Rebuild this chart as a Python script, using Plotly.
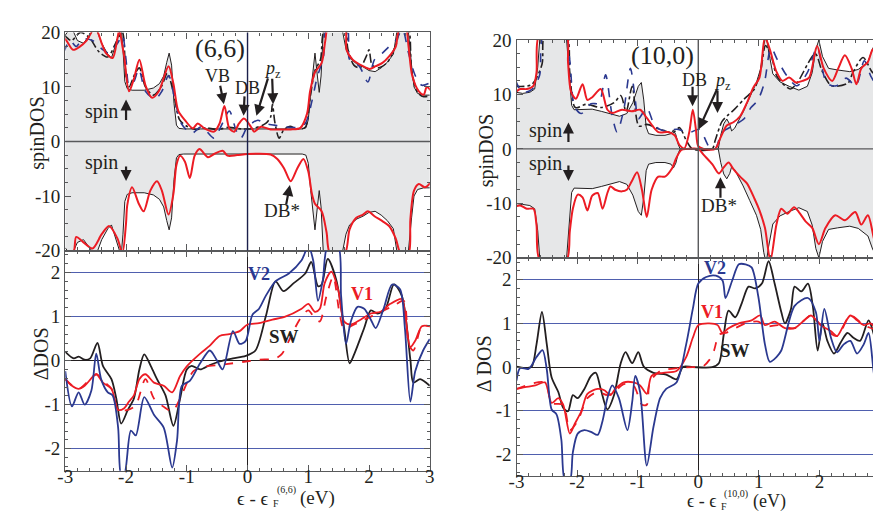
import plotly.graph_objects as go

# ---------------- data ----------------
# (6,6) tube, upper panel: pristine DOS (mirrored for spin down) and defect curves
P66 = [(-3.0, 19.5), (-2.9, 21), (-2.8, 18.5), (-2.7, 18), (-2.6, 19.5), (-2.5, 21), (-2.4, 18), (-2.3, 16),
       (-2.24, 15.3), (-2.16, 18), (-2.08, 21), (-2.05, 17), (-2.02, 11), (-1.98, 9.7), (-1.9, 9.4), (-1.7, 9.4),
       (-1.55, 9.8), (-1.45, 10.6), (-1.38, 12), (-1.33, 14.5), (-1.29, 16.2), (-1.25, 14), (-1.21, 7), (-1.17, 3),
       (-1.13, 2.4), (-1.05, 2.3), (0.0, 2.3), (0.9, 2.3), (0.96, 2.5), (1.0, 4), (1.04, 9), (1.08, 14), (1.11, 16.2),
       (1.15, 12), (1.18, 9), (1.21, 12), (1.25, 21), (1.55, 21), (1.62, 17), (1.68, 15.3), (1.8, 14.2), (1.9, 13.7),
       (2.0, 13), (2.1, 12.8), (2.2, 13.5), (2.3, 14.5), (2.4, 16), (2.47, 21), (2.64, 21), (2.7, 14), (2.74, 10),
       (2.8, 8.8), (2.9, 8.5), (3.0, 8.5)]
RED66_UP = [(-3.03, 19.1), (-2.98, 18.5), (-2.87, 16.8), (-2.76, 17.4), (-2.65, 18.5), (-2.55, 20.3), (-2.49, 20.5),
            (-2.4, 18), (-2.33, 16.2), (-2.22, 15.3), (-2.14, 19), (-2.11, 20.5), (-2.06, 17.5), (-2.03, 15.6),
            (-1.95, 9.2), (-1.87, 11.5), (-1.78, 15.0), (-1.68, 10.3), (-1.57, 8.0), (-1.46, 9.2), (-1.30, 13.8),
            (-1.22, 10.6), (-1.14, 5.6), (-1.03, 3.9), (-0.90, 2.4), (-0.82, 3.3), (-0.71, 2.4), (-0.55, 1.8),
            (-0.46, 3.3), (-0.38, 6.5), (-0.30, 2.4), (-0.22, 1.8), (-0.14, 3.3), (-0.06, 4.2), (0.0, 3.6),
            (0.06, 2.6), (0.11, 1.8), (0.22, 2.7), (0.38, 2.2), (0.55, 2.2), (0.71, 2.2), (0.87, 2.5), (0.98, 5.1),
            (1.03, 9.2), (1.11, 12.7), (1.22, 14.4), (1.28, 18.5), (1.33, 21), (1.6, 21), (1.63, 16.8), (1.73, 15.0),
            (1.9, 13.8), (2.01, 13.3), (2.11, 13.8), (2.22, 14.4), (2.33, 15.6), (2.44, 17.4), (2.49, 20.3),
            (2.6, 21), (2.65, 17.4), (2.71, 12.1), (2.82, 9.2), (2.9, 8.6), (2.95, 10), (3.03, 9.2)]
BLUE66_UP = [(-3.03, 16.2), (-2.92, 18.5), (-2.82, 17.4), (-2.71, 18.8), (-2.55, 18.5), (-2.4, 17), (-2.28, 16.2),
             (-2.14, 18), (-2.06, 19.5), (-2.0, 15), (-1.95, 10.3), (-1.87, 11), (-1.79, 13.3), (-1.68, 9.2),
             (-1.52, 7.8), (-1.41, 9.2), (-1.30, 12.1), (-1.19, 7.4), (-1.09, 3.3), (-0.92, 1.5), (-0.76, 2.7),
             (-0.55, 0.6), (-0.44, 2.7), (-0.30, 5.6), (-0.19, 2.1), (-0.11, 0.6), (0.0, 2.7), (0.17, 3.9),
             (0.28, 3.3), (0.44, 3.0), (0.6, 2.7), (0.82, 2.6), (0.95, 3.3), (1.06, 7.4), (1.14, 11.5), (1.25, 15.6),
             (1.30, 20.5), (1.63, 21), (1.68, 15), (1.84, 13.8), (1.98, 10.9), (2.09, 15), (2.22, 16.2), (2.33, 17.4),
             (2.44, 18.5), (2.55, 20.5), (2.65, 16.2), (2.76, 12.1), (2.87, 10.3), (3.03, 10.9)]
BLACK66_UP = [(-3.03, 19.7), (-2.9, 18.5), (-2.75, 20), (-2.6, 19), (-2.45, 16.5), (-2.3, 15.5), (-2.15, 18.5),
              (-2.06, 20), (-2.0, 12), (-1.95, 10), (-1.85, 12.5), (-1.78, 13.5), (-1.68, 10), (-1.55, 8.5),
              (-1.42, 10), (-1.32, 12.5), (-1.22, 9), (-1.12, 4), (-1.0, 2.8), (-0.85, 2.2), (-0.7, 2.5), (-0.5, 2.2),
              (-0.3, 2.6), (-0.1, 2.3), (0.1, 2.4), (0.3, 3.3), (0.38, 4.5), (0.41, 6.8), (0.45, 3.5), (0.52, 0.6),
              (0.6, 2.2), (0.7, 2.8), (0.8, 2.3), (0.95, 2.6), (1.03, 8), (1.11, 13), (1.2, 15), (1.28, 21), (1.6, 21),
              (1.65, 17), (1.75, 14), (1.85, 13.5), (1.95, 15.5), (2.0, 16.8), (2.05, 14), (2.15, 13.5), (2.3, 14.5),
              (2.45, 18), (2.52, 21), (2.64, 21), (2.7, 13), (2.8, 9), (2.9, 8.2), (3.03, 8.5)]
RED66_DN = [(-3.03, -20.5), (-2.87, -20.5), (-2.82, -17.5), (-2.71, -18.4), (-2.55, -19.6), (-2.4, -17),
            (-2.28, -15.5), (-2.14, -17.8), (-2.06, -20.5), (-2.0, -15), (-1.98, -11.7), (-1.90, -8.4),
            (-1.79, -11.4), (-1.71, -12.8), (-1.60, -9.0), (-1.49, -7.3), (-1.41, -9.0), (-1.30, -13.4),
            (-1.22, -9.6), (-1.17, -4.3), (-1.11, -2.6), (-1.03, -3.7), (-0.95, -6.7), (-0.87, -2.6), (-0.79, -1.4),
            (-0.65, -2.9), (-0.55, -2.3), (-0.41, -1.7), (-0.33, -2.6), (-0.17, -2.5), (0.0, -2.3), (0.38, -2.4),
            (0.49, -3.2), (0.6, -4.9), (0.71, -7.3), (0.82, -4.9), (0.92, -3.2), (1.0, -5.5), (1.06, -9.6),
            (1.11, -11.4), (1.22, -12.8), (1.30, -16.6), (1.36, -20.5), (1.60, -20.5), (1.68, -16.1), (1.79, -14.0),
            (1.90, -13.4), (1.98, -12.8), (2.09, -13.7), (2.22, -14.6), (2.33, -15.5), (2.44, -17.8), (2.52, -20.5),
            (2.65, -20.5), (2.68, -14.3), (2.74, -9.0), (2.82, -7.8), (2.92, -8.4), (3.03, -7.3)]

# (6,6) tube, lower panel: Delta DOS
SW66 = [(-3.0, 0.2), (-2.86, 0.05), (-2.78, 0.09), (-2.68, 0.02), (-2.59, 0.05), (-2.47, 0.40), (-2.38, -0.12),
        (-2.24, -0.42), (-2.16, -0.86), (-2.08, -1.43), (-1.97, -1.12), (-1.87, -0.86), (-1.78, -0.2), (-1.70, 0.14),
        (-1.59, -0.13), (-1.49, -0.42), (-1.35, -0.79), (-1.22, -1.48), (-1.11, -0.86), (-1.0, -0.2), (-0.92, -0.12),
        (-0.78, -0.2), (-0.62, -0.1), (-0.46, -0.02), (-0.24, 0.05), (-0.03, 0.11), (0.13, 0.23), (0.30, 1.0),
        (0.46, 1.8), (0.59, 1.58), (0.76, 1.76), (0.95, 1.98), (1.05, 2.24), (1.16, 1.69), (1.22, 1.73),
        (1.32, 2.31), (1.46, 1.84), (1.59, 0.74), (1.68, -0.06), (1.76, 0.16), (1.92, 0.74), (2.03, 1.14),
        (2.14, 1.07), (2.27, 1.18), (2.41, 1.73), (2.54, 1.47), (2.68, 0.02), (2.73, -0.50), (2.84, -0.42),
        (3.0, -0.57)]
V2_66 = [(-3.0, -0.24), (-2.89, -1.04), (-2.78, -0.72), (-2.68, -1.0), (-2.57, -0.68), (-2.49, 0.16), (-2.41, -0.42),
         (-2.30, -0.72), (-2.22, -0.79), (-2.13, -1.52), (-2.08, -2.6), (-2.03, -2.6), (-1.92, -1.59), (-1.84, -1.70),
         (-1.70, -0.83), (-1.54, -1.23), (-1.38, -1.52), (-1.24, -2.43), (-1.16, -1.81), (-1.08, -0.57),
         (-0.95, -0.46), (-0.78, -0.06), (-0.62, 0.23), (-0.51, 0.02), (-0.41, -0.2), (-0.24, 0.67), (-0.13, 0.38),
         (-0.03, 0.45), (0.08, 1.04), (0.19, 1.18), (0.30, 1.47), (0.46, 1.8), (0.68, 1.98), (0.89, 2.28),
         (1.0, 2.6), (1.08, 2.28), (1.16, 1.36), (1.24, 1.84), (1.32, 2.6), (1.49, 2.6), (1.54, 1.47), (1.62, 0.38),
         (1.70, 0.89), (1.81, 1.22), (1.92, 1.18), (2.03, 0.93), (2.11, 0.74), (2.24, 1.18), (2.38, 1.73),
         (2.51, 1.62), (2.59, 0.74), (2.68, -0.93), (2.76, -0.24), (2.89, 0.23), (3.0, 0.49)]
V1_66 = [(-3.0, -0.42), (-2.89, -0.57), (-2.78, -0.64), (-2.68, -0.57), (-2.49, -0.31), (-2.38, -0.50),
         (-2.24, -0.64), (-2.13, -1.12), (-2.03, -1.08), (-1.95, -0.93), (-1.87, -0.79), (-1.78, -0.42),
         (-1.68, -0.31), (-1.54, -0.50), (-1.38, -0.57), (-1.24, -0.72), (-1.11, -0.35), (-1.0, -0.13),
         (-0.78, 0.16), (-0.62, 0.34), (-0.46, 0.56), (-0.30, 0.60), (-0.13, 0.67), (0.0, 0.82), (0.19, 0.85),
         (0.41, 0.93), (0.62, 1.0), (0.89, 1.18), (1.0, 1.29), (1.11, 1.11), (1.19, 1.18), (1.27, 1.76),
         (1.38, 2.02), (1.49, 1.62), (1.59, 0.89), (1.70, 0.82), (1.86, 0.93), (2.03, 1.07), (2.19, 1.11),
         (2.35, 1.29), (2.54, 1.40), (2.59, 1.11), (2.68, 0.31), (2.76, 0.45), (2.87, 0.78), (3.0, 0.78)]
V1D_66 = [(-3.0, -0.42), (-2.78, -0.64), (-2.49, -0.31), (-2.38, -0.46), (-2.24, -0.64), (-2.13, -1.12),
          (-1.97, -1.12), (-1.84, -1.01), (-1.68, -0.42), (-1.54, -0.86), (-1.38, -1.05), (-1.24, -1.15),
          (-1.11, -0.86), (-0.89, -0.24), (-0.68, -0.13), (-0.46, -0.10), (-0.24, -0.06), (-0.03, -0.02),
          (0.19, 0.02), (0.46, 0.05), (0.57, 0.16), (0.68, 0.45), (0.78, 0.74), (0.89, 1.0), (1.0, 1.14),
          (1.11, 0.96), (1.19, 0.89), (1.30, 1.47), (1.41, 1.91), (1.51, 1.11), (1.59, 0.71), (1.70, 0.78),
          (1.86, 0.89), (2.03, 1.0), (2.24, 1.14), (2.41, 1.25), (2.57, 1.36), (2.65, 0.38), (2.73, 0.23),
          (2.87, 0.78), (3.0, 0.78)]

# (10,0) tube, upper panel
P100 = [(-3.05, 10.5), (-2.9, 10.2), (-2.78, 10.4), (-2.7, 11), (-2.65, 15), (-2.61, 21), (-2.18, 21), (-2.13, 14),
        (-2.09, 8), (-2.05, 7.2), (-1.9, 7.3), (-1.75, 7.3), (-1.6, 6.9), (-1.45, 6.4), (-1.3, 6.0), (-1.18, 6.5),
        (-1.08, 8.5), (-0.99, 11.5), (-0.94, 12.2), (-0.9, 9), (-0.86, 4), (-0.82, 2.8), (-0.7, 2.5), (-0.55, 2.5),
        (-0.45, 2.8), (-0.41, 3.5), (-0.37, 2.6), (-0.33, 0.8), (-0.3, 0.0), (0.33, 0.0), (0.37, 2.5), (0.42, 4.6),
        (0.47, 5.5), (0.52, 4.5), (0.55, 3.3), (0.6, 3.8), (0.65, 4.8), (0.74, 6.8), (0.85, 9.5), (0.96, 12.2),
        (1.03, 14.8), (1.08, 19), (1.12, 21), (1.16, 18), (1.23, 13.8), (1.35, 12.3), (1.5, 11.5), (1.66, 10.8),
        (1.8, 11.5), (1.88, 14), (1.94, 18.3), (1.99, 20), (2.05, 17), (2.15, 14.8), (2.3, 14.5), (2.5, 14.2),
        (2.64, 14.6), (2.8, 16), (2.88, 18.5), (2.94, 19.5), (3.05, 12)]
RED100_UP = [(-3.05, 10.1), (-2.94, 11.0), (-2.83, 11.0), (-2.72, 11.6), (-2.67, 14), (-2.62, 21), (-2.18, 21),
             (-2.15, 16.0), (-2.1, 10.5), (-2.02, 9.2), (-1.91, 11.9), (-1.83, 9.0), (-1.75, 9.5), (-1.61, 11.0),
             (-1.5, 7.2), (-1.42, 6.6), (-1.26, 7.2), (-1.1, 6.9), (-0.96, 7.2), (-0.85, 5.7), (-0.66, 3.1),
             (-0.50, 3.1), (-0.39, 2.5), (-0.31, 0.7), (-0.23, 0.1), (-0.15, 3.0), (-0.09, 7.2), (-0.04, 3.7),
             (0.0, 0.5), (0.09, 0.0), (0.28, 0.0), (0.36, 1.9), (0.47, 4.3), (0.58, 4.9), (0.69, 6.0), (0.80, 8.4),
             (0.91, 11.3), (1.01, 13.1), (1.10, 20.5), (1.18, 18.3), (1.29, 14.2), (1.39, 12.5), (1.50, 13.1),
             (1.61, 12.2), (1.72, 12.5), (1.83, 13.1), (1.96, 18.9), (2.07, 14.8), (2.21, 12.5), (2.31, 14.8),
             (2.42, 17.2), (2.53, 14.8), (2.61, 11.9), (2.69, 14.8), (2.80, 16.0), (2.88, 18.3), (2.97, 13.6),
             (3.05, 9.0)]
BLUE100_UP = [(-3.02, 12.7), (-2.9, 10.4), (-2.74, 11.0), (-2.62, 13.5), (-2.55, 21), (-2.2, 21), (-2.12, 16.2),
              (-2.04, 7.7), (-1.93, 6.5), (-1.77, 8.3), (-1.64, 8.4), (-1.53, 13.6), (-1.42, 6.0), (-1.34, 3.1),
              (-1.23, 7.2), (-1.12, 14.8), (-1.04, 9.0), (-0.99, 5.5), (-0.85, 7.5), (-0.72, 4.3), (-0.59, 3.4),
              (-0.35, 3.6), (-0.15, 3.0), (0.02, 3.6), (0.18, 0.4), (0.28, 0.0), (0.39, 3.0), (0.6, 4.4),
              (0.76, 5.6), (0.87, 7.6), (0.98, 8.9), (1.09, 12.1), (1.2, 18.6), (1.3, 16.5), (1.47, 13.3),
              (1.63, 11.6), (1.8, 14), (1.96, 18.6), (2.12, 12.1), (2.28, 11.6), (2.44, 13), (2.6, 11.6),
              (2.74, 16.2), (2.85, 13.3), (2.96, 11.6), (3.02, 13.3)]
BLACK100_UP = [(-3.02, 11.5), (-2.75, 11.8), (-2.58, 15.5), (-2.53, 21), (-2.18, 21), (-2.12, 14), (-2.03, 7.6),
               (-1.85, 8.2), (-1.6, 7.6), (-1.39, 8.5), (-1.28, 9.8), (-1.19, 6.9), (-1.09, 11.5), (-0.98, 4.2),
               (-0.85, 4.5), (-0.63, 3.6), (-0.42, 3.0), (-0.31, 3.9), (-0.2, 1.6), (-0.1, 0.0), (0.23, 0.0),
               (0.28, 1.6), (0.39, 5.0), (0.49, 6.2), (0.6, 7.3), (0.76, 9.2), (0.92, 10.9), (1.03, 14.4),
               (1.11, 19), (1.22, 16.5), (1.3, 13.3), (1.52, 11.0), (1.63, 12.1), (1.93, 17.5), (2.04, 14.4),
               (2.2, 11.6), (2.47, 12.1), (2.55, 14), (2.72, 16.8), (2.88, 14), (3.02, 13.3)]
RED100_DN = [(-3.05, -10.7), (-2.94, -10.4), (-2.83, -11.0), (-2.72, -11.0), (-2.67, -14), (-2.61, -20.5),
             (-2.18, -20.5), (-2.12, -15.1), (-2.07, -11.0), (-1.99, -8.4), (-1.91, -8.9), (-1.83, -11.3),
             (-1.75, -8.6), (-1.66, -8.1), (-1.58, -11.0), (-1.5, -8.1), (-1.45, -6.9), (-1.37, -7.5),
             (-1.26, -7.8), (-1.18, -7.5), (-1.10, -6.0), (-1.01, -4.3), (-0.93, -7.5), (-0.85, -12.5),
             (-0.77, -7.5), (-0.66, -5.1), (-0.55, -5.1), (-0.44, -3.7), (-0.36, -1.6), (-0.28, -0.2), (-0.2, 0.0),
             (0.0, 0.0), (0.09, -1.1), (0.23, -2.8), (0.34, -4.5), (0.42, -3.4), (0.50, -2.5), (0.58, -3.7),
             (0.69, -5.1), (0.80, -6.3), (0.93, -9.2), (1.01, -11.3), (1.10, -14.5), (1.19, -20.5), (1.29, -13.9),
             (1.37, -11.0), (1.47, -11.9), (1.58, -10.7), (1.66, -11.6), (1.77, -13.3), (1.88, -14.5),
             (1.99, -17.5), (2.10, -14.5), (2.26, -12.2), (2.42, -13.1), (2.59, -11.6), (2.69, -13.9),
             (2.80, -12.2), (2.91, -16.9), (2.97, -18.0), (3.05, -13.1)]

# (10,0) tube, lower panel: Delta DOS
SW100 = [(-3.0, 0.01), (-2.86, -0.02), (-2.75, 0.01), (-2.67, 0.52), (-2.58, 1.26), (-2.50, 0.52), (-2.42, -0.24),
         (-2.31, -0.57), (-2.23, -0.93), (-2.15, -1.01), (-2.07, -0.64), (-1.99, -0.71), (-1.88, -0.50),
         (-1.77, -0.2), (-1.69, -0.13), (-1.61, -0.50), (-1.50, -0.97), (-1.39, -0.64), (-1.28, 0.09),
         (-1.20, 0.34), (-1.09, 0.09), (-0.99, 0.34), (-0.90, 0.01), (-0.74, -0.13), (-0.53, -0.17),
         (-0.36, -0.28), (-0.25, 0.01), (-0.09, 0.0), (0.23, 0.0), (0.34, 0.09), (0.42, 0.74), (0.50, 1.29),
         (0.61, 1.14), (0.72, 1.47), (0.83, 1.84), (0.94, 1.80), (1.05, 1.91), (1.16, 2.42), (1.26, 1.91),
         (1.37, 1.26), (1.43, 1.0), (1.53, 1.33), (1.59, 1.84), (1.70, 1.73), (1.81, 1.91), (1.89, 1.40),
         (1.97, 0.38), (2.05, 1.0), (2.13, 0.60), (2.24, 0.31), (2.35, 0.56), (2.46, 0.78), (2.56, 0.67),
         (2.67, 0.60), (2.81, 1.07), (2.89, 0.78), (3.0, 0.01)]
V2_100 = [(-3.0, -0.31), (-2.94, -0.02), (-2.80, -0.04), (-2.67, 0.23), (-2.57, 0.39), (-2.50, -0.06),
          (-2.42, -0.97), (-2.34, -1.08), (-2.26, -1.66), (-2.20, -2.6), (-2.12, -2.6), (-2.07, -1.95),
          (-1.99, -1.52), (-1.88, -1.44), (-1.77, -1.48), (-1.66, -1.55), (-1.58, -1.23), (-1.50, -0.71),
          (-1.42, -0.42), (-1.31, -0.71), (-1.17, -1.44), (-1.09, -0.79), (-1.04, -0.20), (-0.96, -0.57),
          (-0.85, -2.25), (-0.74, -1.37), (-0.63, -0.71), (-0.53, -0.50), (-0.36, -0.35), (-0.20, 0.52),
          (-0.09, 1.33), (0.0, 1.91), (0.13, 2.06), (0.29, 2.09), (0.40, 1.98), (0.45, 1.58), (0.56, 1.98),
          (0.67, 2.35), (0.78, 2.35), (0.88, 2.28), (0.99, 1.62), (1.10, 0.52), (1.18, 0.12), (1.29, 0.23),
          (1.37, 0.38), (1.59, 1.40), (1.81, 1.58), (1.94, 1.26), (2.0, 0.60), (2.08, 1.33), (2.19, 0.67),
          (2.29, 0.34), (2.40, 0.52), (2.51, 0.60), (2.62, 0.31), (2.73, 0.52), (2.81, 0.78), (2.89, -0.06),
          (2.95, -0.71), (3.0, -1.12)]
V1_100 = [(-3.0, -0.50), (-2.86, -0.46), (-2.69, -0.42), (-2.53, -0.35), (-2.42, -0.82), (-2.31, -0.71),
          (-2.23, -0.86), (-2.12, -1.52), (-2.04, -1.30), (-1.93, -1.01), (-1.83, -0.61), (-1.66, -0.50),
          (-1.55, -0.53), (-1.45, -0.64), (-1.37, -0.50), (-1.23, -0.35), (-1.07, -0.35), (-0.96, -0.42),
          (-0.85, -0.61), (-0.77, -0.20), (-0.58, -0.13), (-0.36, -0.09), (-0.20, 0.23), (-0.09, 0.67),
          (0.0, 0.96), (0.18, 1.0), (0.32, 0.96), (0.40, 0.78), (0.50, 0.89), (0.67, 1.0), (0.88, 1.07),
          (1.02, 1.18), (1.10, 0.96), (1.26, 1.04), (1.43, 0.89), (1.59, 0.89), (1.75, 1.07), (1.86, 1.18),
          (2.02, 0.96), (2.19, 0.82), (2.29, 0.71), (2.40, 0.96), (2.51, 1.18), (2.62, 1.07), (2.73, 0.96),
          (2.84, 1.0), (2.95, 0.82), (3.0, 0.60)]
V1D_100 = [(-3.0, -0.50), (-2.53, -0.35), (-2.42, -0.82), (-2.23, -0.86), (-2.12, -1.44), (-1.99, -1.23),
           (-1.83, -0.71), (-1.66, -0.57), (-1.50, -0.64), (-1.39, -0.57), (-1.23, -0.39), (-1.07, -0.42),
           (-0.93, -0.86), (-0.85, -0.86), (-0.80, -0.35), (-0.63, -0.09), (-0.31, -0.02), (-0.09, 0.0),
           (0.07, 0.01), (0.18, 0.16), (0.26, 0.38), (0.34, 0.74), (0.45, 0.78), (0.61, 0.89), (0.78, 1.0),
           (0.99, 1.04), (1.10, 0.93), (1.32, 0.96), (1.59, 0.89), (1.86, 1.18), (2.02, 0.96), (2.29, 0.71),
           (2.51, 1.18), (2.73, 0.96), (2.95, 0.82), (3.0, 0.60)]

X_TICKS = [-3, -2, -1, 0, 1, 2, 3]
X_TICKTEXT = ['-3', '-2', '-1', '0', '1', '2', '3']
SPIN_TICKS = [-20, -10, 0, 10, 20]
SPIN_TICKTEXT = ['-20', '-10', '0', '10', '20']
D_TICKS = [-2, -1, 0, 1, 2]
D_TICKTEXT = ['-2', '-1', '0', '1', '2']

# ---------------- styling ----------------
W, H = 881, 513
FONT = 'Liberation Serif, Times New Roman, DejaVu Serif, serif'
RED = '#ec1c24'
BLUE = '#2b3990'
BLACK = '#231f20'
FILL = '#e6e7e8'
FRAME = '#58595b'
GRIDBLUE = '#4f5fae'


def pxx(x):
    return x / W


def pyy(y):
    return 1 - y / H


def xs(pairs):
    return [p[0] for p in pairs]


def ys(pairs, sign=1):
    return [sign * p[1] for p in pairs]


fig = go.Figure()


def curve(pairs, xa, ya, color, width, dash='solid', shape='spline'):
    fig.add_trace(go.Scatter(x=xs(pairs), y=ys(pairs), xaxis=xa, yaxis=ya, mode='lines',
                             line=dict(color=color, width=width, dash=dash, shape=shape, smoothing=0.8),
                             hoverinfo='skip', showlegend=False))


def pristine(pairs, xa, ya, sign):
    fig.add_trace(go.Scatter(x=xs(pairs), y=ys(pairs, sign), xaxis=xa, yaxis=ya, mode='lines',
                             fill='tozeroy', fillcolor=FILL,
                             line=dict(color=BLACK, width=1), hoverinfo='skip', showlegend=False))


# (6,6) top
pristine(P66, 'x', 'y', 1)
pristine(P66, 'x', 'y', -1)
curve(BLACK66_UP, 'x', 'y', BLACK, 1.6, 'dashdot')
curve(BLUE66_UP, 'x', 'y', BLUE, 1.6, 'dash')
curve(RED66_UP, 'x', 'y', RED, 2.0)
curve(RED66_DN, 'x', 'y', RED, 2.0)
# (6,6) bottom
curve(SW66, 'x2', 'y2', BLACK, 1.8)
curve(V1D_66, 'x2', 'y2', RED, 1.8, 'dash')
curve(V1_66, 'x2', 'y2', RED, 1.8)
curve(V2_66, 'x2', 'y2', BLUE, 1.8)
# (10,0) top
pristine(P100, 'x3', 'y3', 1)
pristine(P100, 'x3', 'y3', -1)
curve(BLACK100_UP, 'x3', 'y3', BLACK, 1.6, 'dashdot')
curve(BLUE100_UP, 'x3', 'y3', BLUE, 1.6, 'dash')
curve(RED100_UP, 'x3', 'y3', RED, 2.0)
curve(RED100_DN, 'x3', 'y3', RED, 2.0)
# (10,0) bottom
curve(SW100, 'x4', 'y4', BLACK, 1.8)
curve(V1D_100, 'x4', 'y4', RED, 1.8, 'dash')
curve(V1_100, 'x4', 'y4', RED, 1.8)
curve(V2_100, 'x4', 'y4', BLUE, 1.8)

XL = [50 / W, 420 / W]
XR = [508 / W, 877 / W]
TL = [pyy(242.5), pyy(15)]
BL = [pyy(472), pyy(242.5)]
TR = [pyy(250), pyy(23)]
BR = [pyy(478), pyy(250)]

base = dict(showline=True, linecolor=FRAME, linewidth=1.3, mirror='ticks', ticks='inside', ticklen=6,
            tickcolor=FRAME, tickwidth=1, tickfont=dict(family=FONT, size=19, color=BLACK),
            showgrid=False, zeroline=False, fixedrange=True)


def xax(domain, anchor, labels):
    d = dict(base)
    d.update(domain=domain, anchor=anchor, range=[-3, 3], tickvals=X_TICKS, ticktext=X_TICKTEXT,
             showticklabels=labels, minor=dict(dtick=0.2, ticks='inside', ticklen=3, tickcolor=FRAME))
    if labels:
        d.update(zeroline=True, zerolinecolor=BLACK, zerolinewidth=1, ticklabelstandoff=-12)
    return d


def yspin(domain, anchor):
    d = dict(base)
    d.update(domain=domain, anchor=anchor, range=[-20, 20], tickvals=SPIN_TICKS, ticktext=SPIN_TICKTEXT,
             minor=dict(dtick=2.5, ticks='inside', ticklen=3, tickcolor=FRAME))
    return d


def ydelta(domain, anchor):
    d = dict(base)
    d.update(domain=domain, anchor=anchor, range=[-2.5, 2.5], tickvals=D_TICKS, ticktext=D_TICKTEXT,
             showgrid=True, gridcolor=GRIDBLUE, gridwidth=1,
             zeroline=True, zerolinecolor=BLACK, zerolinewidth=1,
             minor=dict(dtick=0.2, ticks='inside', ticklen=3, tickcolor=FRAME))
    return d


fig.update_layout(
    width=W, height=H, margin=dict(l=0, r=0, t=0, b=0),
    paper_bgcolor='white', plot_bgcolor='white', showlegend=False,
    xaxis=xax(XL, 'y', False), yaxis=yspin(TL, 'x'),
    xaxis2=xax(XL, 'y2', True), yaxis2=ydelta(BL, 'x2'),
    xaxis3=xax(XR, 'y3', False), yaxis3=yspin(TR, 'x3'),
    xaxis4=xax(XR, 'y4', True), yaxis4=ydelta(BR, 'x4'),
)

# zero lines of the spin panels, drawn over the grey area
for xr, yr, vcol in (('x', 'y', '#1b1f4b'), ('x3', 'y3', FRAME)):
    fig.add_shape(type='line', xref=xr + ' domain', yref=yr, x0=0, x1=1, y0=0, y1=0,
                  line=dict(color=FRAME, width=1.4), layer='above')
    fig.add_shape(type='line', xref=xr, yref=yr + ' domain', x0=0, x1=0, y0=0, y1=1,
                  line=dict(color=vcol, width=1.4), layer='above')


def label(text, x, y, size=18, color=BLACK, angle=0, xanchor='center'):
    fig.add_annotation(x=pxx(x), y=pyy(y), xref='paper', yref='paper', text=text, showarrow=False,
                       textangle=angle, xanchor=xanchor, yanchor='middle',
                       font=dict(family=FONT, size=size, color=color))


def arrow(tail, head):
    fig.add_annotation(x=pxx(head[0]), y=pyy(head[1]), xref='paper', yref='paper', text='',
                       showarrow=True, ax=tail[0] - head[0], ay=tail[1] - head[1],
                       axref='pixel', ayref='pixel', arrowhead=2, arrowsize=1.0, arrowwidth=2.2,
                       arrowcolor=BLACK)


# left panel texts
label('(6,6)', 207, 32, 26)
label('VB', 205, 60, 18)
label('DB', 235, 73, 18)
label('<i>p</i><sub>z</sub>', 260, 54, 18)
label('spin', 87, 97, 20)
label('spin', 87, 151, 20)
label('DB*', 270, 201, 19)
label('<b>V2</b>', 247, 267, 18, BLUE)
label('<b>V1</b>', 351, 288, 18, RED)
label('<b>SW</b>', 272, 332, 19, BLACK)
label('spinDOS', 21, 120, 20, angle=-90)
label('ΔDOS', 25, 350, 20, angle=-90)
label('ϵ - ϵ', 259, 501, 19, xanchor='right')
label('F', 259, 506, 10, xanchor='left')
label('(6,6)', 263, 492, 10, xanchor='left')
label('(eV)', 286, 500, 19, xanchor='left')
arrow((207, 70), (211, 90))
arrow((232, 81), (231, 102))
arrow((256, 63), (244, 102))
arrow((260, 63), (261, 90))
arrow((111.7, 107), (111.7, 85))
arrow((111.7, 154), (111.7, 170))
arrow((274, 195), (278, 174))

# right panel texts
label('(10,0)', 656, 39, 26)
label('DB', 689, 65, 18)
label('<i>p</i><sub>z</sub>', 717, 66, 18)
label('spin', 537, 117, 20)
label('spin', 537, 152, 20)
label('DB*', 714, 196, 19)
label('<b>V2</b>', 709, 261, 18, BLUE)
label('<b>V1</b>', 706, 307, 18, RED)
label('<b>SW</b>', 730, 347, 19, BLACK)
label('spinDOS', 477, 138, 20, angle=-90)
label('Δ DOS', 475, 360, 20, angle=-90)
label('ϵ - ϵ', 714, 504, 18, xanchor='right')
label('F', 714, 509, 10, xanchor='left')
label('(10,0)', 717, 496, 10, xanchor='left')
label('(eV)', 746, 504, 18, xanchor='left')
arrow((686.7, 71), (686.7, 92))
arrow((711.7, 75), (693, 116))
arrow((712, 75), (712, 99))
arrow((560.7, 130), (560.7, 109))
arrow((560.7, 153), (560.7, 170))
arrow((715, 188), (715, 166))

fig.write_html('out.html')
